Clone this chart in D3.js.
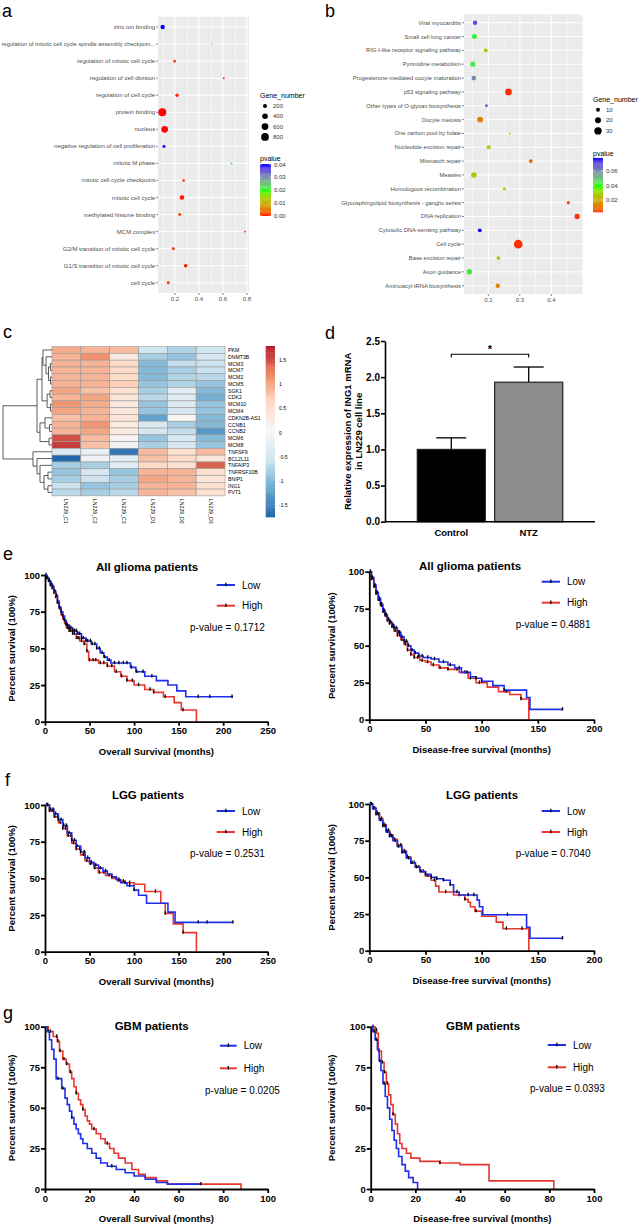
<!DOCTYPE html>
<html><head><meta charset="utf-8">
<script src="https://cdnjs.cloudflare.com/ajax/libs/d3/7.8.5/d3.min.js"></script>
<style>body{margin:0;background:#fff}svg{display:block}</style>
</head><body>
<svg id="c" width="638" height="1224"></svg>
<script>
// ================= DATA =================
// Panel a: GO enrichment
const goTerms = ["zinc ion binding","regulation of mitotic cell cycle spindle assembly checkpoin...","regulation of mitotic cell cycle","regulation of cell division","regulation of cell cycle","protein binding","nucleus","negative regulation of cell proliferation","mitotic M phase","mitotic cell cycle checkpoint","mitotic cell cycle","methylated histone binding","MCM complex","G2/M transition of mitotic cell cycle","G1/S transition of mitotic cell cycle","cell cycle"];
const goRichFactor = [0.097,0.506,0.197,0.606,0.217,0.094,0.114,0.108,0.672,0.272,0.258,0.239,0.783,0.186,0.289,0.144];
const goGeneNumber = [240,3,70,30,125,850,585,125,30,70,272,96,30,96,157,96];
const goPvalue = [0.0405,0.03,0.001,0.001,0.0005,0.00001,0.00001,0.039,0.021,0.001,0.0002,0.002,0.001,0.001,0.0003,0.001];
const goXTicks = [0.2,0.4,0.6,0.8];
const goSizeLegend = [200,400,600,800];
const goPLegend = [0,0.01,0.02,0.03,0.04];

// Panel b: KEGG enrichment
const keggTerms = ["Viral myocarditis","Small cell lung cancer","RIG-I-like receptor signaling pathway","Pyrimidine metabolism","Progesterone-mediated oocyte maturation","p53 signaling pathway","Other types of O-glycan biosynthesis","Oocyte meiosis","One carbon pool by folate","Nucleotide excision repair","Mismatch repair","Measles","Homologous recombination","Glycosphingolipid biosynthesis - ganglio series","DNA replication","Cytosolic DNA-sensing pathway","Cell cycle","Base excision repair","Axon guidance","Aminoacyl-tRNA biosynthesis"];
const keggRichFactor = [0.158,0.156,0.192,0.151,0.154,0.264,0.194,0.174,0.268,0.201,0.335,0.154,0.251,0.454,0.482,0.173,0.295,0.232,0.140,0.230];
const keggGeneNumber = [12,15,10,16,13,25,6,20,4,10,9,18,7,7,16,9,40,9,18,12];
const keggPvalue = [0.070,0.042,0.028,0.044,0.060,0.0034,0.068,0.012,0.032,0.030,0.008,0.029,0.031,0.005,0.004,0.078,0.0035,0.026,0.043,0.014];
const keggXTicks = [0.2,0.3,0.4];
const keggSizeLegend = [10,20,30];
const keggPLegend = [0.02,0.04,0.06];

// Panel c: heatmap (row-scaled expression)
const heatGenes = ["PKM","DNMT3B","MCM3","MCM7","MCM2","MCM5","SGK1","CDK2","MCM10","MCM4","CDKN2B-AS1","CCNB1","CCNB2","MCM6","MCM8","TNFSF9","BCL2L11","TNFAIP3","TNFRSF10B","BNIP1","ING1","PVT1"];
const heatSamples = ["LN229_C1","LN229_C2","LN229_C3","LN229_D1","LN229_D2","LN229_D3"];
const heatValues = [
 [0.95,0.9,0.85,-0.55,-0.75,-0.55],
 [0.9,1.15,0.3,-0.8,-0.9,-0.5],
 [0.9,0.9,0.6,-1.0,-0.65,-0.6],
 [0.9,0.9,0.6,-1.0,-0.8,-0.6],
 [0.9,0.9,0.6,-1.0,-0.75,-0.7],
 [0.9,0.9,0.7,-0.9,-0.75,-0.9],
 [1.0,0.8,0.5,-0.8,-0.3,-1.0],
 [0.9,1.0,0.4,-0.7,-0.35,-1.1],
 [1.1,0.95,0.3,-0.9,-0.4,-0.9],
 [1.0,0.9,0.4,-0.9,-0.5,-0.9],
 [0.8,0.9,0.4,-1.2,0.1,-1.0],
 [0.9,1.1,0.3,-0.4,-0.8,-1.0],
 [0.9,1.0,0.3,-0.5,-0.65,-1.3],
 [1.5,0.85,0.1,-0.9,-0.45,-1.0],
 [1.6,0.8,-0.1,-0.8,-0.5,-0.9],
 [-0.4,-0.2,-1.6,0.85,0.5,0.85],
 [-1.75,-0.1,-0.3,0.8,0.6,0.4],
 [-0.8,-0.8,-0.3,0.6,0.5,1.4],
 [-0.9,-0.5,-0.9,0.9,0.9,0.5],
 [-0.8,-0.6,-0.8,1.0,0.9,0.4],
 [-0.6,-0.9,-0.8,0.9,0.9,0.5],
 [-0.7,-0.8,-0.7,0.9,0.8,0.5]
];
const heatLegendRange = [-1.75,1.79];
const heatLegendTicks = [1.5,1,0.5,0,-0.5,-1,-1.5];
const heatRowTree = {h:10,c:[
  {h:3.06,c:[
    {h:2.04,c:[
      {h:1.84,c:["PKM",{h:1.22,c:["DNMT3B",{h:0.71,c:[{h:0.3,c:["MCM3","MCM7"]},{h:0.3,c:["MCM2","MCM5"]}]}]}]},
      {h:1.0,c:[{h:0.4,c:["SGK1","CDK2"]},{h:0.3,c:["MCM10","MCM4"]}]}
    ]},
    {h:2.45,c:[{h:1.43,c:["CDKN2B-AS1",{h:0.51,c:["CCNB1","CCNB2"]}]},{h:0.61,c:["MCM6","MCM8"]}]}
  ]},
  {h:3.88,c:["TNFSF9",{h:3.06,c:["BCL2L11",{h:2.45,c:["TNFAIP3",{h:1.63,c:[{h:0.82,c:["TNFRSF10B","BNIP1"]},{h:0.82,c:["ING1","PVT1"]}]}]}]}]}
]};

// Panel d: qPCR
const qpcrGroups = ["Control","NTZ"];
const qpcrMean = [1.0,1.93];
const qpcrSem = [0.16,0.21];
const qpcrTicks = [0,0.5,1.0,1.5,2.0,2.5];

// Panels e-g: Kaplan-Meier step data [months, % survival]
const osAllLow = [[0,100],[2,98],[4,96],[6,94],[8,92],[10,89],[12,86],[14,82],[16,78],[18,75],[20,72],[22,69],[24,66],[27,64],[31,62],[36,60],[41,57],[46,55],[52,53],[58,50],[62,47],[66,44],[70,42],[74,40],[96,37],[102,34],[112,31],[125,28],[138,25],[148,21],[158,17]];
const osAllLowEnd = 211;
const osAllLowCens = [2,4,5,7,9,11,13,14,16,18,20,22,24,25,27,29,31,33,35,37,39,41,43,46,48,51,53,56,58,61,64,67,72,78,83,88,92,97,103,110,120,172,185,210];
const osAllHigh = [[0,100],[2,98],[4,96],[6,93],[8,91],[10,88],[12,85],[14,81],[16,77],[18,73],[20,70],[22,67],[24,64],[27,62],[31,60],[35,57],[39,55],[44,53],[47,48],[49,42],[60,40],[70,38],[78,34],[85,31],[92,28],[100,25],[112,22],[122,20],[133,17],[145,13],[153,8],[170,0]];
const osAllHighEnd = 170;
const osAllHighCens = [1,3,5,6,8,10,12,14,15,17,19,21,23,25,27,29,31,33,36,38,41,44,47,50,54,57,62,66,70,75,80,86,92,98,105,118,122,135,155];

const dfsAllLow = [[0,100],[2,96],[4,91],[6,86],[8,82],[10,78],[12,74],[14,71],[16,68],[18,66],[20,64],[22,62],[25,59],[28,56],[31,53],[34,50],[37,47],[40,45],[44,43],[48,42],[55,41],[62,39],[70,37],[76,35],[82,32],[90,29],[95,28],[100,26],[110,23],[120,20],[140,15],[143,7]];
const dfsAllLowEnd = 172;
const dfsAllLowCens = [1,2,3,5,6,7,9,10,11,13,14,15,17,18,19,21,22,24,26,27,29,31,33,35,38,41,44,47,52,58,66,72,80,87,95,100,120,172];
const dfsAllHigh = [[0,100],[2,95],[4,90],[6,85],[8,81],[10,77],[12,73],[14,70],[16,67],[18,65],[20,63],[22,60],[25,57],[28,54],[31,51],[34,47],[37,44],[40,42],[45,40],[50,39],[55,37],[62,35],[70,34],[80,32],[88,28],[95,25],[105,22],[115,19],[125,17],[135,14],[142,0]];
const dfsAllHighEnd = 142;
const dfsAllHighCens = [1,2,4,5,6,8,9,11,12,13,15,16,18,20,21,23,25,27,29,32,34,37,40,43,47,52,57,63,70,78,85,90,98,122,135];

const osLggLow = [[0,100],[5,97],[10,94],[15,90],[20,86],[25,81],[30,76],[35,72],[40,68],[45,64],[50,61],[55,59],[60,57],[65,55],[70,53],[75,51],[80,49],[85,47],[92,45],[100,42],[105,38.5],[114,33],[138,27],[146,20]];
const osLggLowEnd = 211;
const osLggLowCens = [3,6,9,12,15,18,21,24,27,30,33,36,40,44,48,52,57,62,68,75,83,90,95,100,172,182,211];
const osLggHigh = [[0,100],[5,96],[10,92],[15,88],[20,84],[25,79],[30,74],[35,70],[40,66],[45,62],[50,60],[55,57],[60,54],[68,52],[75,50],[82,48],[90,47],[100,46],[112,41],[130,33],[135,26],[144,19],[155,13],[170,0]];
const osLggHighEnd = 170;
const osLggHighCens = [2,5,8,11,14,17,20,23,26,29,32,35,39,43,47,51,56,61,66,72,80,88,95,124,135,155];

const dfsLggLow = [[0,100],[3,97],[6,93],[9,89],[12,85],[15,81],[18,78],[21,75],[25,71],[29,67],[33,63],[37,60],[41,57],[45,54],[50,52],[55,50],[60,49],[66,48],[72,45],[75,40],[80,38],[96,34.5],[98,30],[101,24.5],[140,16],[143,8.5]];
const dfsLggLowEnd = 172;
const dfsLggLowCens = [2,4,6,8,10,12,14,16,18,20,23,26,29,32,35,38,42,46,50,55,60,66,72,78,88,93,123,172];
const dfsLggHigh = [[0,100],[3,97],[6,94],[9,90],[12,86],[15,82],[18,79],[21,76],[25,72],[29,68],[33,64],[37,60],[41,57],[45,54],[50,51],[55,48],[59,44],[62,40],[75,38],[85,35],[88,33],[90,30],[94,27],[100,23.5],[113,19.5],[119,15],[142,0]];
const dfsLggHighEnd = 142;
const dfsLggHighCens = [1,3,5,7,9,11,13,15,17,19,22,25,28,31,34,37,40,44,48,52,58,68,80,85,95,122,136];

const osGbmLow = [[0,100],[1,97],[2,92],[3,86],[4,80],[5,68],[7.5,62],[9,56],[10,52],[11,48],[12,44],[13,40],[14,37],[15,34],[16,31],[17,28],[19,25],[21,22],[23,19],[25,16],[28,14],[32,12],[36,10],[40,8],[45,6],[50,4],[55,3]];
const osGbmLowEnd = 70;
const osGbmLowCens = [5.8,8,12,30,70];
const osGbmHigh = [[0,100],[1.5,97],[3.7,94],[5.5,91],[6.5,85],[8,80],[9.5,77],[11,72],[12,68],[13,63],[14,59],[15,55],[16,52],[17,49],[18,45],[19,42],[20,40],[21,37],[23,34],[25,31],[27,28],[29,25],[31,22],[33,19],[36,16],[39,12],[42,9],[45,7],[50,5],[55,3],[88,0]];
const osGbmHighEnd = 88;
const osGbmHighCens = [1.5,2.5,5.3,5.8,6.8,8.5,9.8,11.5,14,17,22,28];

const dfsGbmLow = [[0,100],[1,97],[2,92],[3,86],[3.8,79],[4.6,73],[5.5,65],[6.5,57],[7.5,50],[8.5,43],[9.5,36],[10.5,30],[11.5,25],[12.5,20],[14,15],[15.5,11],[17,7],[19,4],[21,0]];
const dfsGbmLowEnd = 21;
const dfsGbmLowCens = [1.5,2.5,4,6];
const dfsGbmHigh = [[0,100],[2,98],[2.7,96],[3.4,85],[4.8,78],[6,72],[7,65],[8,58],[9,52],[10,46],[11,40],[12,34],[13,28],[14,25],[16,22],[18,19],[22,17],[31,16],[40,15],[53,5],[82,0]];
const dfsGbmHighEnd = 82;
const dfsGbmHighCens = [1,2.5,3.8,5.2,6.2,7.5,10,31];

// ================= DRAWING =================
const FONT = "'Liberation Sans', Arial, Helvetica, sans-serif";
const svg = d3.select("#c");
svg.append("rect").attr("width",638).attr("height",1224).attr("fill","#fff");

function txt(g, x, y, s, o = {}) {
  return g.append("text").attr("x",x).attr("y",y).text(s)
    .attr("font-family",FONT).attr("font-size",o.size||8)
    .attr("font-weight",o.weight||"normal").attr("fill",o.fill||"#000")
    .attr("text-anchor",o.anchor||"start").attr("dominant-baseline",o.base||"auto");
}

// panel letters
[["a",2,17],["b",325,17],["c",3,338],["d",325,339],["e",3,560],["f",5,786],["g",3,1019]].forEach(([l,x,y]) =>
  txt(svg,x,y,l,{size:18}));

// ---------- dot plots (a, b)
function dotPlot(o) {
  const g = svg.append("g");
  const ext = d3.extent(o.x);
  const pad = (ext[1]-ext[0])*0.05;
  const x = d3.scaleLinear().domain(o.xRef).range(o.xRefPx);
  const lo = ext[0]-pad, hi = ext[1]+pad;
  const xl = x(lo), xr = x(hi);
  const y = d3.scalePoint().domain(o.terms).range([o.top,o.bottom]).padding(0.6);
  g.append("rect").attr("x",xl).attr("y",o.top).attr("width",xr-xl).attr("height",o.bottom-o.top).attr("fill","#ebebeb");
  const step = o.ticks[1]-o.ticks[0];
  const minors = d3.range(o.ticks[0]-step/2, hi, step).filter(v => v > lo);
  g.selectAll(".mn").data(minors).enter().append("line")
    .attr("x1",d=>x(d)).attr("x2",d=>x(d)).attr("y1",o.top).attr("y2",o.bottom)
    .attr("stroke","#fff").attr("stroke-width",0.5);
  g.selectAll(".mj").data(o.ticks).enter().append("line")
    .attr("x1",d=>x(d)).attr("x2",d=>x(d)).attr("y1",o.top).attr("y2",o.bottom)
    .attr("stroke","#fff").attr("stroke-width",1);
  g.selectAll(".hj").data(o.terms).enter().append("line")
    .attr("x1",xl).attr("x2",xr).attr("y1",d=>y(d)).attr("y2",d=>y(d))
    .attr("stroke","#fff").attr("stroke-width",1);
  // axes
  o.terms.forEach(t => {
    g.append("line").attr("x1",xl-2).attr("x2",xl).attr("y1",y(t)).attr("y2",y(t)).attr("stroke","#333").attr("stroke-width",0.6);
    const tn = txt(g,xl-3,y(t),t,{size:o.labSize,anchor:"end",base:"central",fill:"#4d4d4d"});
    const avail = xl-3-o.labMinX;
    const w = tn.node().getComputedTextLength();
    if (w > avail) tn.attr("textLength",avail).attr("lengthAdjust","spacingAndGlyphs");
  });
  o.ticks.forEach(t => {
    g.append("line").attr("x1",x(t)).attr("x2",x(t)).attr("y1",o.bottom).attr("y2",o.bottom+2).attr("stroke","#333").attr("stroke-width",0.6);
    txt(g,x(t),o.bottom+5.5,String(t),{size:6,anchor:"middle",base:"central",fill:"#4d4d4d"});
  });
  const se = d3.extent(o.size);
  const area = d3.scaleLinear().domain(se).range([o.rRange[0]**2,o.rRange[1]**2]);
  const r = v => Math.sqrt(area(v));
  const col = d3.scaleLinear().domain(o.colDomain).range(["#ff0000","#00ff00","#0000ff"]).interpolate(d3.interpolateLab).clamp(true);
  const pts = o.terms.map((t,i)=>({t,x:o.x[i],s:o.size[i],p:o.p[i]}));
  g.selectAll(".pt").data(pts).enter().append("circle")
    .attr("cx",d=>x(d.x)).attr("cy",d=>y(d.t)).attr("r",d=>r(d.s)).attr("fill",d=>col(d.p));
  // size legend
  const L = o.leg;
  txt(g,L.x,L.sTitleY,"Gene_number",{size:7});
  o.sizeLegend.forEach((v,i)=>{
    const yy = L.sY0 + i*L.sDy;
    g.append("circle").attr("cx",L.x+5).attr("cy",yy).attr("r",r(v)).attr("fill","#000");
    txt(g,L.x+13,yy,String(v),{size:6,base:"central",fill:"#333"});
  });
  // colour legend
  txt(g,L.x,L.cTitleY,"pvalue",{size:7});
  const pe = d3.extent(o.p);
  const cy = d3.scaleLinear().domain(L.cRef).range(L.cRefPx);
  const nSteps = 60;
  d3.range(nSteps).forEach(k=>{
    const v0 = pe[0]+(pe[1]-pe[0])*k/nSteps, v1 = pe[0]+(pe[1]-pe[0])*(k+1)/nSteps;
    g.append("rect").attr("x",L.x).attr("width",L.cW).attr("y",cy(v1)).attr("height",Math.abs(cy(v0)-cy(v1))+0.3)
      .attr("fill",col((v0+v1)/2));
  });
  o.pLegend.forEach(v=>{
    g.append("line").attr("x1",L.x).attr("x2",L.x+2).attr("y1",cy(v)).attr("y2",cy(v)).attr("stroke","#fff").attr("stroke-width",0.5);
    g.append("line").attr("x1",L.x+L.cW-2).attr("x2",L.x+L.cW).attr("y1",cy(v)).attr("y2",cy(v)).attr("stroke","#fff").attr("stroke-width",0.5);
    txt(g,L.x+L.cW+3,cy(v),v.toFixed(2),{size:6,base:"central",fill:"#333"});
  });
}

dotPlot({terms:goTerms,x:goRichFactor,size:goGeneNumber,p:goPvalue,ticks:goXTicks,
  xRef:[0.2,0.8],xRefPx:[175,247],top:16.8,bottom:293,labSize:6,labMinX:1.7,rRange:[0.7,4.0],
  colDomain:[0,0.02,0.04],sizeLegend:goSizeLegend,pLegend:goPLegend,
  leg:{x:260,sTitleY:98,sY0:106,sDy:10.3,cTitleY:161,cW:11,cRef:[0,0.04],cRefPx:[215.7,164.7]}});

dotPlot({terms:keggTerms,x:keggRichFactor,size:keggGeneNumber,p:keggPvalue,ticks:keggXTicks,
  xRef:[0.2,0.4],xRefPx:[488.3,551.3],top:14.4,bottom:294,labSize:5.8,labMinX:322,rRange:[1,4.3],
  colDomain:[0.002,0.04,0.078],sizeLegend:keggSizeLegend,pLegend:keggPLegend,
  leg:{x:593,sTitleY:102,sY0:109.7,sDy:10.6,cTitleY:156,cW:10,cRef:[0.02,0.06],cRefPx:[200,171]}});

// ---------- heatmap (c)
(function(){
  const g = svg.append("g");
  const top = 346.6, rowH = 6.785;
  const x = d3.scaleBand().domain(heatSamples).range([52,225]);
  const y = d3.scaleBand().domain(heatGenes).range([top, top+rowH*heatGenes.length]);
  const colors = ["#b2182b","#ef8a62","#fddbc7","#f7f7f7","#d1e5f0","#67a9cf","#2166ac"];
  const [mn,mx] = heatLegendRange;
  const col = d3.scaleLinear().domain(d3.range(7).map(i=>mx-(mx-mn)*i/6)).range(colors);
  heatGenes.forEach((gn,i)=>heatSamples.forEach((s,j)=>{
    g.append("rect").attr("x",x(s)).attr("y",y(gn)).attr("width",x.bandwidth()).attr("height",y.bandwidth())
      .attr("fill",col(heatValues[i][j])).attr("stroke","#999").attr("stroke-width",0.6);
  }));
  heatGenes.forEach(gn=>txt(g,228,y(gn)+y.bandwidth()/2,gn,{size:5.2,base:"central"}));
  heatSamples.forEach(s=>{
    g.append("text").attr("transform",`translate(${x(s)+x.bandwidth()/2},${top+rowH*heatGenes.length+3}) rotate(90)`)
      .text(s).attr("font-family",FONT).attr("font-size",5.2).attr("dominant-baseline","central");
  });
  // dendrogram
  const hx = d3.scaleLinear().domain([0,heatRowTree.h]).range([52,3]);
  function lay(n){
    if (typeof n === "string") return {y:y(n)+y.bandwidth()/2, h:0};
    const ch = n.c.map(lay);
    ch.forEach(c=>g.append("line").attr("x1",hx(n.h)).attr("x2",hx(c.h)).attr("y1",c.y).attr("y2",c.y).attr("stroke","#333").attr("stroke-width",0.8));
    g.append("line").attr("x1",hx(n.h)).attr("x2",hx(n.h)).attr("y1",ch[0].y).attr("y2",ch[ch.length-1].y).attr("stroke","#333").attr("stroke-width",0.8);
    return {y:(ch[0].y+ch[ch.length-1].y)/2, h:n.h};
  }
  lay(heatRowTree);
  // colour key
  const ly = d3.scaleLinear().domain([1.5,-1.5]).range([360,505]);
  const N=80;
  d3.range(N).forEach(k=>{
    const v0 = mx-(mx-mn)*k/N, v1 = mx-(mx-mn)*(k+1)/N;
    g.append("rect").attr("x",265.7).attr("width",9.3).attr("y",ly(v0)).attr("height",ly(v1)-ly(v0)+0.3).attr("fill",col((v0+v1)/2));
  });
  heatLegendTicks.forEach(v=>txt(g,279,ly(v),String(v),{size:5,base:"central"}));
})();

// ---------- bar chart (d)
(function(){
  const g = svg.append("g");
  const y = d3.scaleLinear().domain([0,2.5]).range([521.7,341]);
  const x = d3.scaleBand().domain(qpcrGroups).range([385,595]).paddingInner(0.12).paddingOuter(0.417);
  const fills = ["#000000","#8c8c8c"];
  qpcrGroups.forEach((gr,i)=>{
    const cx = x(gr)+x.bandwidth()/2;
    g.append("line").attr("x1",cx).attr("x2",cx).attr("y1",y(qpcrMean[i])).attr("y2",y(qpcrMean[i]+qpcrSem[i])).attr("stroke","#000").attr("stroke-width",1.3);
    g.append("line").attr("x1",cx-15).attr("x2",cx+15).attr("y1",y(qpcrMean[i]+qpcrSem[i])).attr("y2",y(qpcrMean[i]+qpcrSem[i])).attr("stroke","#000").attr("stroke-width",1.3);
    g.append("rect").attr("x",x(gr)).attr("y",y(qpcrMean[i])).attr("width",x.bandwidth()).attr("height",y(0)-y(qpcrMean[i]))
      .attr("fill",fills[i]).attr("stroke","#222").attr("stroke-width",1.2);
    txt(g,cx,532,gr,{size:9.5,weight:"bold",anchor:"middle",base:"central"});
  });
  const ya = g.append("g").attr("transform","translate(385,0)")
    .call(d3.axisLeft(y).tickValues(qpcrTicks).tickFormat(d3.format(".1f")).tickSize(4).tickPadding(1).tickSizeOuter(0));
  ya.select(".domain").attr("stroke-width",1.6);
  ya.selectAll(".tick line").attr("stroke-width",1.6);
  ya.selectAll("text").attr("font-family",FONT).attr("font-size",10).attr("font-weight","bold");
  g.append("line").attr("x1",385).attr("x2",595).attr("y1",y(0)).attr("y2",y(0)).attr("stroke","#000").attr("stroke-width",1.6);
  // significance bracket
  const c0 = x("Control")+x.bandwidth()/2, c1 = x("NTZ")+x.bandwidth()/2;
  g.append("path").attr("d",`M${c0},357.5V354.3H${c1}V357.5`).attr("fill","none").attr("stroke","#000").attr("stroke-width",1.1);
  txt(g,(c0+c1)/2,349,"*",{size:11,weight:"bold",anchor:"middle",base:"central"});
  const ty = (y(0)+y(2.5))/2;
  g.append("text").attr("transform",`translate(347,${ty}) rotate(-90)`).text("Relative expression of ING1 mRNA")
    .attr("font-family",FONT).attr("font-size",9.5).attr("font-weight","bold").attr("text-anchor","middle").attr("dominant-baseline","central");
  g.append("text").attr("transform",`translate(358,${ty}) rotate(-90)`).text("in LN229 cell line")
    .attr("font-family",FONT).attr("font-size",9.5).attr("font-weight","bold").attr("text-anchor","middle").attr("dominant-baseline","central");
})();

// ---------- survival plots (e, f, g)
const BLUE = "#1f2eea", RED = "#e8372e";
function stepAt(data,t){ let s=data[0][1]; for (const [tt,ss] of data){ if (tt<=t) s=ss; else break; } return s; }
function survPlot(c){
  const g = svg.append("g");
  const x = d3.scaleLinear().domain([0,c.xmax]).range([c.x0,c.x1]);
  const y = d3.scaleLinear().domain([0,100]).range([c.y0,c.y100]);
  const line = d3.line().x(d=>x(d[0])).y(d=>y(d[1])).curve(d3.curveStepAfter);
  [[c.high,RED],[c.low,BLUE]].forEach(([cv,colr])=>{
    const [data,end,cens] = cv;
    const pts = data.concat([[end,data[data.length-1][1]]]);
    g.append("path").attr("d",line(pts)).attr("fill","none").attr("stroke",colr).attr("stroke-width",1.6);
    cens.forEach(t=>{
      const s = stepAt(data,t);
      g.append("line").attr("x1",x(t)).attr("x2",x(t)).attr("y1",y(s)-2.2).attr("y2",y(s)+1.2).attr("stroke","#000").attr("stroke-width",1.3);
    });
  });
  const ax = g.append("g").attr("transform",`translate(0,${c.y0})`)
    .call(d3.axisBottom(x).tickValues(c.xticks).tickSize(4).tickPadding(2).tickSizeOuter(0));
  const ay = g.append("g").attr("transform",`translate(${c.x0},0)`)
    .call(d3.axisLeft(y).tickValues([0,25,50,75,100]).tickSize(4).tickPadding(1).tickSizeOuter(0));
  [ax,ay].forEach(a=>{
    a.select(".domain").attr("stroke-width",1.8);
    a.selectAll(".tick line").attr("stroke-width",1.8);
    a.selectAll("text").attr("font-family",FONT).attr("font-size",9.5).attr("font-weight","bold");
  });
  txt(g,(c.x0+c.x1)/2,c.y0+33,c.xlabel,{size:9.5,weight:"bold",anchor:"middle"});
  g.append("text").attr("transform",`translate(${c.ylabX},${(c.y0+c.y100)/2}) rotate(-90)`).text("Percent survival (100%)")
    .attr("font-family",FONT).attr("font-size",9.5).attr("font-weight","bold").attr("text-anchor","middle").attr("dominant-baseline","central");
  txt(g,c.tx,c.ty,c.title,{size:11.5,weight:"bold",anchor:"middle",base:"central"});
  [["Low",BLUE,c.legY[0]],["High",RED,c.legY[1]]].forEach(([lab,colr,ly])=>{
    g.append("line").attr("x1",c.legX[0]).attr("x2",c.legX[1]).attr("y1",ly).attr("y2",ly).attr("stroke",colr).attr("stroke-width",2);
    const mx = (c.legX[0]+c.legX[1])/2;
    g.append("line").attr("x1",mx).attr("x2",mx).attr("y1",ly-2.2).attr("y2",ly+1.2).attr("stroke","#000").attr("stroke-width",1.3);
    txt(g,c.legX[1]+7,ly,lab,{size:10,base:"central"});
  });
  txt(g,c.pX,c.pY,c.pText,{size:10,base:"central"});
}

survPlot({title:"All glioma patients",tx:147,ty:567,x0:45,x1:267.7,xmax:250,xticks:[0,50,100,150,200,250],y0:721.7,y100:575,
  xlabel:"Overall Survival (months)",ylabX:11,low:[osAllLow,osAllLowEnd,osAllLowCens],high:[osAllHigh,osAllHighEnd,osAllHighCens],
  legX:[216.7,235],legY:[585,605.7],pText:"p-value = 0.1712",pX:190,pY:627});
survPlot({title:"All glioma patients",tx:470,ty:566,x0:369.3,x1:594,xmax:200,xticks:[0,50,100,150,200],y0:719.7,y100:571.7,
  xlabel:"Disease-free survival  (months)",ylabX:331,low:[dfsAllLow,dfsAllLowEnd,dfsAllLowCens],high:[dfsAllHigh,dfsAllHighEnd,dfsAllHighCens],
  legX:[541.7,560],legY:[581.7,602.7],pText:"p-value = 0.4881",pX:515.7,pY:624.3});
survPlot({title:"LGG patients",tx:148,ty:795,x0:45,x1:267.7,xmax:250,xticks:[0,50,100,150,200,250],y0:951.7,y100:805,
  xlabel:"Overall Survival (months)",ylabX:11,low:[osLggLow,osLggLowEnd,osLggLowCens],high:[osLggHigh,osLggHighEnd,osLggHighCens],
  legX:[216.7,235],legY:[811,832],pText:"p-value = 0.2531",pX:190,pY:853});
survPlot({title:"LGG patients",tx:482,ty:795,x0:369.3,x1:594,xmax:200,xticks:[0,50,100,150,200],y0:950.7,y100:804,
  xlabel:"Disease-free survival  (months)",ylabX:331,low:[dfsLggLow,dfsLggLowEnd,dfsLggLowCens],high:[dfsLggHigh,dfsLggHighEnd,dfsLggHighCens],
  legX:[541.7,560],legY:[811,832],pText:"p-value = 0.7040",pX:515.7,pY:853});
survPlot({title:"GBM patients",tx:151.7,ty:1026,x0:45,x1:267.7,xmax:100,xticks:[0,20,40,60,80,100],y0:1189,y100:1026.7,
  xlabel:"Overall Survival (months)",ylabX:11,low:[osGbmLow,osGbmLowEnd,osGbmLowCens],high:[osGbmHigh,osGbmHighEnd,osGbmHighCens],
  legX:[220,236.7],legY:[1045.7,1068.3],pText:"p-value = 0.0205",pX:205,pY:1090});
survPlot({title:"GBM patients",tx:483,ty:1026,x0:370.7,x1:594,xmax:100,xticks:[0,20,40,60,80,100],y0:1189,y100:1026.7,
  xlabel:"Disease-free survival  (months)",ylabX:331,low:[dfsGbmLow,dfsGbmLowEnd,dfsGbmLowCens],high:[dfsGbmHigh,dfsGbmHighEnd,dfsGbmHighCens],
  legX:[547.7,566],legY:[1045,1067.3],pText:"p-value = 0.0393",pX:530,pY:1088});
</script>
</body></html>
